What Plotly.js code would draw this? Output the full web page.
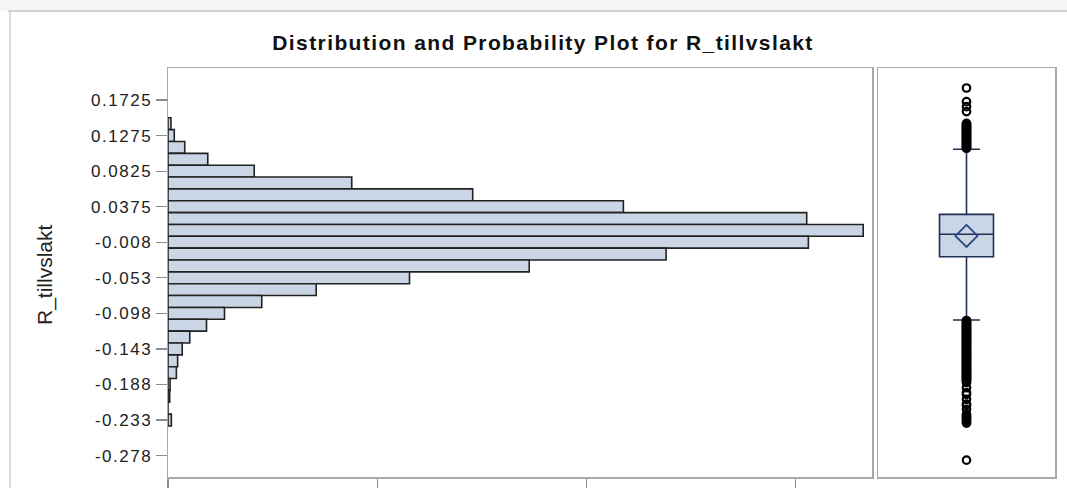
<!DOCTYPE html>
<html>
<head>
<meta charset="utf-8">
<script src="https://cdn.plot.ly/plotly-3.0.1.min.js"></script>
<style>
html,body{margin:0;padding:0;background:#fff;}
#chart{width:1067px;height:488px;}
.ytick text{letter-spacing:1.5px;}
.gtitle{letter-spacing:1.4px;}
</style>
</head>
<body>
<div id="chart"></div>
<script>
// ---- data ----
const binCenters = [0.1425, 0.1275, 0.1125, 0.0975, 0.0825, 0.0675, 0.0525, 0.0375, 0.0225, 0.0075,
  -0.0075, -0.0225, -0.0375, -0.0525, -0.0675, -0.0825, -0.0975, -0.1125, -0.1275, -0.1425,
  -0.1575, -0.1725, -0.1875, -0.2025, -0.2175, -0.2325];
const percents = [0.07, 0.15, 0.40, 0.95, 2.06, 4.39, 7.28, 10.88, 15.26, 16.61,
  15.30, 11.90, 8.63, 5.77, 3.54, 2.24, 1.35, 0.92, 0.52, 0.34,
  0.23, 0.20, 0.05, 0.04, 0.00, 0.08];
const yTickVals = [0.1725, 0.1275, 0.0825, 0.0375, -0.0075, -0.0525, -0.0975, -0.1425, -0.1875, -0.2325, -0.2775];
const yTickText = ['0.1725', '0.1275', '0.0825', '0.0375', '-0.008', '-0.053', '-0.098', '-0.143', '-0.188', '-0.233', '-0.278'];
const xTickVals = [0, 5, 10, 15];

const boxQ1 = -0.0258, boxMedian = 0.0027, boxQ3 = 0.0278;
const boxLowerFence = -0.1059, boxUpperFence = 0.1101, boxMean = 0.0005;
const outliersHigh = [0.1877, 0.1704, 0.1641, 0.1578, 0.1430, 0.1420, 0.1409, 0.1398, 0.1388, 0.1377,
  0.1366, 0.1356, 0.1345, 0.1334, 0.1324, 0.1313, 0.1302, 0.1292, 0.1281, 0.1270,
  0.1260, 0.1249, 0.1238, 0.1228, 0.1217, 0.1206, 0.1196, 0.1185, 0.1174, 0.1164,
  0.1153, 0.1142, 0.1132, 0.1121, 0.1112];
const outliersLow = [-0.1066, -0.1076, -0.1087, -0.1098, -0.1108, -0.1119, -0.1130, -0.1140, -0.1151, -0.1162,
  -0.1172, -0.1183, -0.1194, -0.1204, -0.1215, -0.1226, -0.1236, -0.1247, -0.1258, -0.1268,
  -0.1279, -0.1290, -0.1300, -0.1311, -0.1322, -0.1332, -0.1343, -0.1354, -0.1364, -0.1375,
  -0.1386, -0.1396, -0.1407, -0.1418, -0.1428, -0.1439, -0.1450, -0.1460, -0.1471, -0.1482,
  -0.1492, -0.1503, -0.1514, -0.1524, -0.1535, -0.1546, -0.1556, -0.1567, -0.1578, -0.1588,
  -0.1599, -0.1610, -0.1620, -0.1631, -0.1642, -0.1652, -0.1663, -0.1674, -0.1684, -0.1695,
  -0.1706, -0.1716, -0.1727, -0.1738, -0.1748, -0.1759, -0.1770, -0.1780, -0.1791, -0.1802,
  -0.1812, -0.1823, -0.1834, -0.1850, -0.1916, -0.1978, -0.2001, -0.2063, -0.2124, -0.2140,
  -0.2190, -0.2252, -0.2268, -0.2284, -0.2300, -0.2316, -0.2332, -0.2348, -0.2364, -0.2833];

// ---- layout helpers (pixel -> paper) ----
const W = 1067, H = 488;
const px = x => x / W;
const py = y => (H - y) / H;
const yRange = [-0.3046, 0.2130];
const FONT = 'Liberation Sans, Arial, sans-serif';
const frameColor = '#a9a9a9';
const allOutliers = outliersHigh.concat(outliersLow);

const traces = [
  {
    type: 'bar', orientation: 'h',
    y: binCenters, x: percents,
    xaxis: 'x', yaxis: 'y',
    marker: {color: '#CAD5E5', line: {color: '#222222', width: 1.6}},
    hoverinfo: 'x+y', showlegend: false
  },
  {
    type: 'box', xaxis: 'x2', yaxis: 'y2',
    x: [0], q1: [boxQ1], median: [boxMedian], q3: [boxQ3],
    lowerfence: [boxLowerFence], upperfence: [boxUpperFence],
    width: 0.61, whiskerwidth: 0.5, boxpoints: false,
    fillcolor: '#CAD5E5', line: {color: '#1f2f55', width: 1.6},
    showlegend: false
  },
  {
    type: 'scatter', mode: 'markers', xaxis: 'x2', yaxis: 'y2',
    x: allOutliers.map(() => 0),
    y: allOutliers,
    marker: {symbol: 'circle-open', size: 7.5, color: '#000', line: {width: 2.2, color: '#000'}},
    showlegend: false, hoverinfo: 'y'
  },
  {
    type: 'scatter', mode: 'markers', xaxis: 'x2', yaxis: 'y2',
    x: [0], y: [boxMean],
    marker: {symbol: 'diamond-open', size: 17, color: '#2d4a86', line: {width: 1.9, color: '#2d4a86'}},
    showlegend: false, hoverinfo: 'y'
  }
];

const layout = {
  width: W, height: H,
  margin: {l: 0, r: 0, t: 0, b: 0, pad: 0},
  paper_bgcolor: '#ffffff', plot_bgcolor: '#ffffff',
  bargap: 0,
  font: {family: FONT, color: '#222'},
  title: {
    text: 'Distribution and Probability Plot for R_tillvslakt',
    font: {family: FONT, size: 21, weight: 'bold', color: '#111'},
    x: px(543), xref: 'paper', xanchor: 'center',
    y: py(43), yref: 'paper', yanchor: 'middle'
  },
  xaxis: {
    domain: [px(168), px(872)], anchor: 'y', range: [0, 16.82],
    showline: true, mirror: true, linecolor: frameColor, linewidth: 1.5,
    ticks: 'outside', ticklen: 14, tickcolor: '#8c8c8c', tickwidth: 1.2,
    tickvals: xTickVals, showticklabels: false,
    showgrid: false, zeroline: false, automargin: false, fixedrange: true
  },
  yaxis: {
    domain: [py(477), py(68)], anchor: 'x', range: yRange,
    showline: true, mirror: true, linecolor: frameColor, linewidth: 1.5,
    ticks: 'outside', ticklen: 11, tickcolor: '#8c8c8c', tickwidth: 1.2,
    tickvals: yTickVals, ticktext: yTickText,
    tickfont: {family: FONT, size: 17, color: '#222'},
    showgrid: false, zeroline: false, automargin: false, fixedrange: true
  },
  xaxis2: {
    domain: [px(878), px(1055)], anchor: 'y2', range: [-1, 1], type: 'linear',
    showline: true, mirror: true, linecolor: frameColor, linewidth: 1.5,
    ticks: '', showticklabels: false, showgrid: false, zeroline: false, fixedrange: true
  },
  yaxis2: {
    domain: [py(477), py(68)], anchor: 'x2', range: yRange,
    showline: true, mirror: true, linecolor: frameColor, linewidth: 1.5,
    ticks: '', showticklabels: false, showgrid: false, zeroline: false, fixedrange: true
  },
  annotations: [{
    text: 'R_tillvslakt', textangle: -90,
    xref: 'paper', yref: 'paper', x: px(45), y: py(275),
    xanchor: 'center', yanchor: 'middle', showarrow: false,
    font: {family: FONT, size: 21, color: '#222'}
  }],
  shapes: [
    {type: 'rect', xref: 'paper', yref: 'paper', x0: 0, x1: 1, y0: py(11), y1: 1,
     fillcolor: '#f5f5f5', line: {width: 0}, layer: 'below'},
    {type: 'line', xref: 'paper', yref: 'paper', x0: px(8), x1: 1.02, y0: py(11), y1: py(11),
     line: {color: '#c4c4c4', width: 1.5}},
    {type: 'line', xref: 'paper', yref: 'paper', x0: px(10), x1: px(10), y0: py(11), y1: -0.05,
     line: {color: '#cfcfcf', width: 1.5}}
  ]
};

Plotly.newPlot('chart', traces, layout, {displayModeBar: false, staticPlot: true});
</script>
</body>
</html>
